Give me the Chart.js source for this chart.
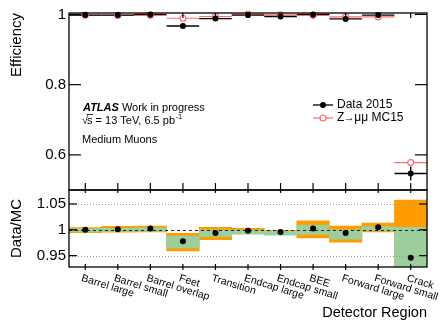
<!DOCTYPE html>
<html><head><meta charset="utf-8">
<script src="https://cdn.jsdelivr.net/npm/chart.js@4"></script>
<style>
html,body{margin:0;padding:0;background:#fff;width:440px;height:320px;overflow:hidden}
#wrapTop{position:absolute;left:0;top:0;width:440px;height:205px;z-index:2}
#wrapBot{position:absolute;left:0;top:175px;width:440px;height:145px;z-index:1}
canvas{display:block}
</style></head><body>
<div id="wrapBot"><canvas id="bot" width="440" height="145"></canvas></div>
<div id="wrapTop"><canvas id="top" width="440" height="205"></canvas></div>
<script>
const categories = ["Barrel large","Barrel small","Barrel overlap","Feet","Transition","Endcap large","Endcap small","BEE","Forward large","Forward small","Crack"];
const effData    = [0.998, 0.998, 1.000, 0.967, 0.988, 0.998, 0.994, 1.000, 0.987, 0.998, 0.547];
const effDataErr = [0.001, 0.001, 0.001, 0.004, 0.002, 0.001, 0.001, 0.001, 0.002, 0.001, 0.020];
const effMC      = [0.998, 0.997, 0.9974, 0.989, 0.994, 1.000, 0.9985, 0.9974, 0.993, 0.993, 0.578];
const effMCErr   = [0.0005, 0.0005, 0.0005, 0.001, 0.001, 0.0005, 0.0005, 0.0005, 0.001, 0.0005, 0.004];
const ratio      = [1.000, 1.001, 1.0026, 0.978, 0.994, 0.998, 0.9955, 1.0026, 0.994, 1.005, 0.946];
const orangeLo   = [0.9945, 0.9955, 0.996, 0.959, 0.981, 0.9965, 0.9965, 0.9845, 0.976, 0.996, 0.90];
const orangeHi   = [1.0045, 1.0065, 1.007, 0.993, 1.005, 1.003, 0.999, 1.0174, 1.007, 1.013, 1.0576];
const greenLo    = [0.996, 0.997, 0.997, 0.965, 0.9865, 0.9915, 0.9895, 0.991, 0.982, 0.998, 0.90];
const greenHi    = [1.002, 1.003, 1.004, 0.988, 1.000, 0.9995, 0.998, 1.009, 1.000, 1.006, 1.0047];
const effTicks   = [0.6, 0.8, 1];
const ratioTicks = [0.95, 1, 1.05];

const FONT = "'Liberation Sans', Arial, Helvetica, sans-serif";
const MCCOL = '#ff6b6b';

function binGeom(xs, i) {
  const c = xs.getPixelForValue(i);
  const hw = (xs.getPixelForValue(1) - xs.getPixelForValue(0)) / 2;
  return [c, hw];
}
function line(ctx, x1, y1, x2, y2) { ctx.beginPath(); ctx.moveTo(x1, y1); ctx.lineTo(x2, y2); ctx.stroke(); }

const topPlugin = {
  id: 'topDeco',
  beforeDatasetsDraw(chart) {
    const ctx = chart.ctx, xs = chart.scales.x, ys = chart.scales.y;
    ctx.save();
    ctx.strokeStyle = MCCOL; ctx.lineWidth = 1.2;
    effMC.forEach((v, i) => {
      const [c, hw] = binGeom(xs, i); const y = ys.getPixelForValue(v);
      line(ctx, c - hw, y, c + hw, y);
      line(ctx, c, ys.getPixelForValue(v - effMCErr[i]), c, ys.getPixelForValue(v + effMCErr[i]));
    });
    ctx.strokeStyle = '#000'; ctx.lineWidth = 1.3;
    effData.forEach((v, i) => {
      const [c, hw] = binGeom(xs, i); const y = ys.getPixelForValue(v);
      line(ctx, c - hw, y, c + hw, y);
      line(ctx, c, ys.getPixelForValue(v - effDataErr[i]), c, ys.getPixelForValue(v + effDataErr[i]));
    });
    ctx.restore();
  },
  afterDraw(chart) {
    const ctx = chart.ctx, a = chart.chartArea, xs = chart.scales.x, ys = chart.scales.y;
    ctx.save();
    ctx.strokeStyle = '#000'; ctx.lineWidth = 1.3;
    ctx.strokeRect(a.left, a.top, a.right - a.left, a.bottom - a.top);
    ctx.lineWidth = 1.2;
    effTicks.forEach(v => {
      const y = ys.getPixelForValue(v);
      line(ctx, a.left, y, a.left + 12, y);
      line(ctx, a.right - 12, y, a.right, y);
    });
    categories.forEach((c, i) => {
      const x = xs.getPixelForValue(i);
      line(ctx, x, a.bottom - 7, x, a.bottom);
      line(ctx, x, a.top, x, a.top + 5);
    });
    ctx.fillStyle = '#000';
    ctx.font = '15px ' + FONT;
    ctx.translate(17, a.top);
    ctx.rotate(-Math.PI / 2);
    ctx.textAlign = 'right'; ctx.textBaseline = 'middle';
    ctx.fillText('Efficiency', 0, 0);
    ctx.restore();

    ctx.save();
    ctx.fillStyle = '#000'; ctx.textBaseline = 'middle'; ctx.textAlign = 'left';
    ctx.font = 'bold italic 11px ' + FONT;
    ctx.fillText('ATLAS', 83, 108);
    const wA = ctx.measureText('ATLAS').width;
    ctx.font = '11px ' + FONT;
    ctx.fillText(' Work in progress', 83 + wA, 108);
    const y2 = 121;
    ctx.fillText('\u221A', 82, y2);
    const wR = ctx.measureText('\u221A').width;
    ctx.fillText('s', 82 + wR - 1, y2);
    const wS = ctx.measureText('s').width;
    ctx.lineWidth = 0.8; ctx.strokeStyle = '#000';
    line(ctx, 82 + wR - 1.5, y2 - 6.5, 82 + wR - 1 + wS + 0.5, y2 - 6.5);
    const rest = ' = 13 TeV, 6.5 pb';
    ctx.fillText(rest, 82 + wR - 1 + wS, y2);
    const wRest = ctx.measureText(rest).width;
    ctx.font = '7.5px ' + FONT;
    ctx.fillText('-1', 82 + wR - 1 + wS + wRest + 0.5, y2 - 4);
    ctx.font = '11px ' + FONT;
    ctx.fillText('Medium Muons', 82, 140);
    ctx.font = '12px ' + FONT;
    ctx.strokeStyle = '#000'; ctx.lineWidth = 1.3;
    line(ctx, 313, 105, 333, 105);
    ctx.beginPath(); ctx.arc(323, 105, 3, 0, Math.PI * 2); ctx.fillStyle = '#000'; ctx.fill();
    ctx.fillText('Data 2015', 337, 105);
    ctx.strokeStyle = MCCOL; ctx.lineWidth = 1.2;
    line(ctx, 313, 118, 333, 118);
    ctx.beginPath(); ctx.arc(323, 118, 3, 0, Math.PI * 2); ctx.fillStyle = '#fff'; ctx.fill(); ctx.stroke();
    ctx.fillStyle = '#000';
    let xx = 337;
    ctx.fillText('Z', xx, 118); xx += ctx.measureText('Z').width;
    ctx.font = '11px ' + FONT;
    ctx.fillText('\u2192', xx - 0.5, 118); xx += ctx.measureText('\u2192').width - 1;
    ctx.font = '12px ' + FONT;
    ctx.fillText('\u03BC\u03BC MC15', xx, 118);
    ctx.restore();
  }
};

new Chart(document.getElementById('top'), {
  type: 'line',
  data: {
    labels: categories,
    datasets: [
      { label: 'Z\u2192\u03BC\u03BC MC15', data: effMC, showLine: false, pointRadius: 3, pointBorderWidth: 1.2,
        borderColor: MCCOL, backgroundColor: '#fff', pointBackgroundColor: '#fff', pointBorderColor: MCCOL, order: 2, clip: false },
      { label: 'Data 2015', data: effData, showLine: false, pointRadius: 3, pointBorderWidth: 0,
        borderColor: '#000', backgroundColor: '#000', pointBackgroundColor: '#000', order: 1, clip: false }
    ]
  },
  options: {
    responsive: false, animation: false, devicePixelRatio: 1,
    layout: { padding: { left: 0, right: 13, top: 13, bottom: 15 } },
    plugins: { legend: { display: false }, tooltip: { enabled: false } },
    scales: {
      x: { type: 'category', offset: true, display: false },
      y: {
        min: 0.5, max: 1.004,
        afterFit(s) { s.width = 69; },
        afterBuildTicks(s) { s.ticks = effTicks.map(v => ({ value: v })); },
        grid: { display: false, drawTicks: false }, border: { display: false },
        ticks: { font: { family: FONT, size: 15 }, color: '#000', padding: 3, callback: v => String(v) }
      }
    }
  },
  plugins: [topPlugin]
});

const botPlugin = {
  id: 'botDeco',
  afterDatasetDraw(chart, args) {
    if (args.index !== 1) return;
    const ctx = chart.ctx, a = chart.chartArea, ys = chart.scales.y;
    ctx.save();
    ctx.lineWidth = 1;
    ctx.strokeStyle = '#999'; ctx.setLineDash([1, 2]);
    [0.95, 1.05].forEach(v => { const y = Math.round(ys.getPixelForValue(v)) + 0.5; line(ctx, a.left, y, a.right, y); });
    ctx.strokeStyle = '#222'; ctx.setLineDash([3, 3]);
    const y1 = Math.round(ys.getPixelForValue(1)) + 0.5; line(ctx, a.left, y1, a.right, y1);
    ctx.restore();
  },
  afterDraw(chart) {
    const ctx = chart.ctx, a = chart.chartArea, xs = chart.scales.x, ys = chart.scales.y;
    ctx.save();
    ctx.strokeStyle = '#000'; ctx.lineWidth = 1.3;
    ctx.strokeRect(a.left, a.top, a.right - a.left, a.bottom - a.top);
    ctx.lineWidth = 1.2;
    ratioTicks.forEach(v => {
      const y = ys.getPixelForValue(v);
      line(ctx, a.left, y, a.left + 8, y);
      line(ctx, a.right - 8, y, a.right, y);
    });
    categories.forEach((c, i) => {
      const x = xs.getPixelForValue(i);
      line(ctx, x, a.top, x, a.top + 3);
      line(ctx, x, a.bottom - 3, x, a.bottom + 3);
    });
    ctx.fillStyle = '#000';
    ctx.font = '10.5px ' + FONT;
    ctx.textAlign = 'left'; ctx.textBaseline = 'top';
    categories.forEach((c, i) => {
      const x = xs.getPixelForValue(i);
      ctx.save();
      ctx.translate(x - 2, a.bottom + 6);
      ctx.rotate(0.3);
      ctx.fillText(c, 0, 0);
      ctx.restore();
    });
    ctx.font = '14.5px ' + FONT;
    ctx.textAlign = 'right'; ctx.textBaseline = 'alphabetic';
    ctx.fillText('Detector Region', a.right, 142);
    ctx.font = '15px ' + FONT;
    ctx.translate(17, (a.top + a.bottom) / 2);
    ctx.rotate(-Math.PI / 2);
    ctx.textAlign = 'center'; ctx.textBaseline = 'middle';
    ctx.fillText('Data/MC', 0, 0);
    ctx.restore();
  }
};

new Chart(document.getElementById('bot'), {
  type: 'bar',
  data: {
    labels: categories,
    datasets: [
      { type: 'bar', label: 'syst', data: categories.map((c, i) => [orangeLo[i], orangeHi[i]]),
        backgroundColor: '#ff9d00', borderWidth: 0, barPercentage: 1, categoryPercentage: 1, grouped: false, order: 3, clip: 0 },
      { type: 'bar', label: 'stat', data: categories.map((c, i) => [greenLo[i], greenHi[i]]),
        backgroundColor: '#9ccf9c', borderWidth: 0, barPercentage: 1, categoryPercentage: 1, grouped: false, order: 2, clip: 0 },
      { type: 'line', label: 'Data/MC', data: ratio, showLine: false, pointRadius: 3, pointBorderWidth: 0,
        pointBackgroundColor: '#000', borderColor: '#000', backgroundColor: '#000', order: 1, clip: false }
    ]
  },
  options: {
    responsive: false, animation: false, devicePixelRatio: 1,
    layout: { padding: { left: 0, right: 13, top: 15, bottom: 53 } },
    plugins: { legend: { display: false }, tooltip: { enabled: false } },
    scales: {
      x: { type: 'category', offset: true, display: false },
      y: {
        min: 0.928, max: 1.077,
        afterFit(s) { s.width = 69; },
        afterBuildTicks(s) { s.ticks = ratioTicks.map(v => ({ value: v })); },
        grid: { display: false, drawTicks: false }, border: { display: false },
        ticks: { font: { family: FONT, size: 15 }, color: '#000', padding: 3, callback: v => String(v) }
      }
    }
  },
  plugins: [botPlugin]
});
</script>
</body></html>
